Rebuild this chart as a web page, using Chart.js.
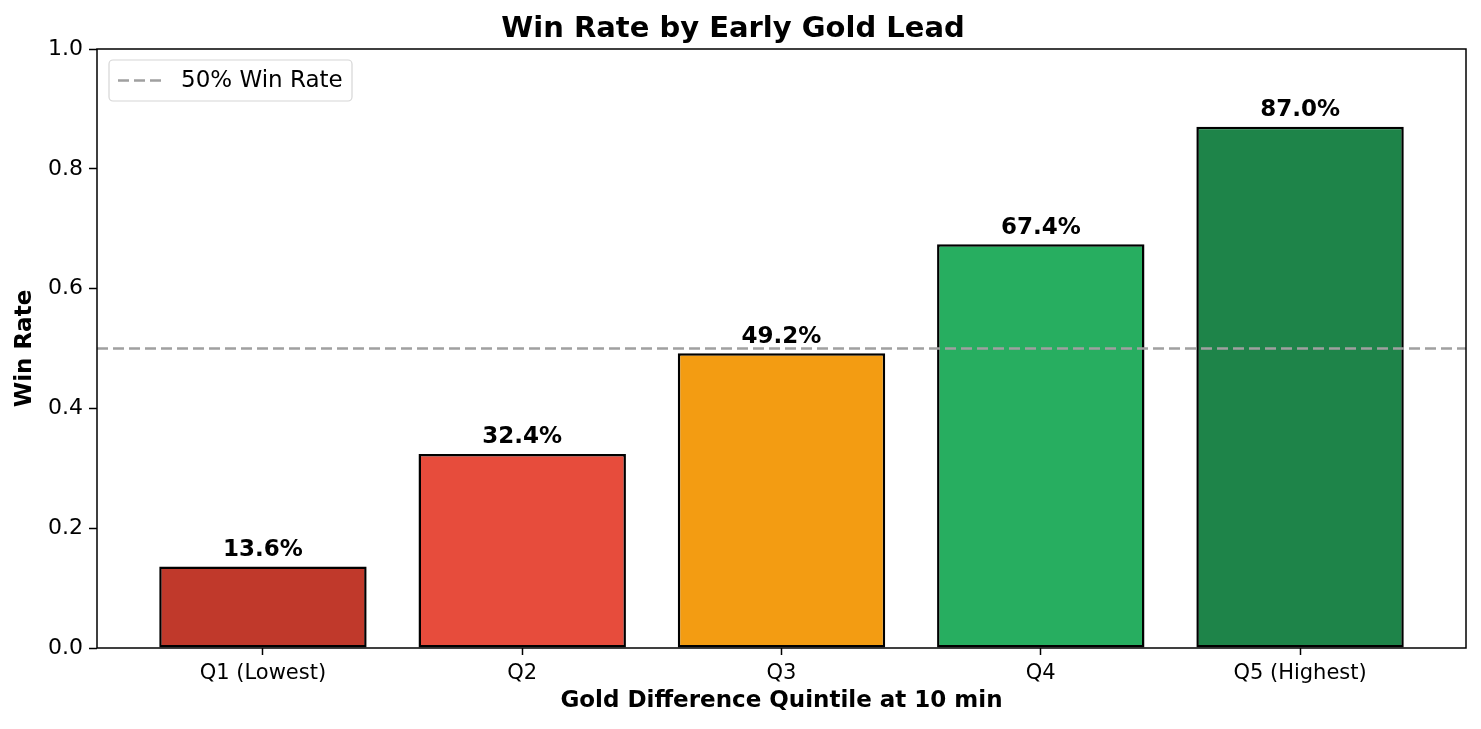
<!DOCTYPE html>
<html>
<head>
<meta charset="utf-8">
<script src="https://cdn.jsdelivr.net/npm/chart.js@4.4.1/dist/chart.umd.min.js"></script>
<style>
  html, body { margin: 0; padding: 0; background: #fff; }
  #wrap { width: 1481px; height: 729px; }
</style>
</head>
<body>
<div id="wrap"><canvas id="winChart" width="1481" height="729"></canvas></div>
<script>
const quintiles = ["Q1 (Lowest)", "Q2", "Q3", "Q4", "Q5 (Highest)"];
const winRates = [0.136, 0.324, 0.492, 0.674, 0.870];
const barColors = ["#c0392b", "#e74c3c", "#f39c12", "#27ae60", "#1e8449"];
const yTicks = [0, 0.2, 0.4, 0.6, 0.8, 1.0];
const refLabel = "50% Win Rate";
const refValue = 0.5;
const xMin = -0.64, xMax = 4.64;

const FONT = "'DejaVu Sans', sans-serif";

// bar value labels + legend + top/right spines
const extras = {
    id: "extras",
    afterDatasetsDraw(chart) {
        const c = chart.ctx;
        const {left, right, top, bottom} = chart.chartArea;
        const xs = chart.scales.x, ys = chart.scales.y;

        c.save();
        c.font = "bold 23px " + FONT;
        c.fillStyle = "#000";
        c.textAlign = "center";
        c.textBaseline = "bottom";
        winRates.forEach((v, i) => {
            c.fillText((v * 100).toFixed(1) + "%", xs.getPixelForValue(i), ys.getPixelForValue(v) - 5);
        });

        // frame
        c.strokeStyle = "#000";
        c.lineWidth = 1.5;
        c.strokeRect(left, top, right - left, bottom - top);

        // legend
        const lx = left + 12, ly = top + 11, lw = 243, lh = 41;
        c.beginPath();
        c.roundRect(lx, ly, lw, lh, 4);
        c.fillStyle = "rgba(255,255,255,0.8)";
        c.fill();
        c.strokeStyle = "#d6d6d6";
        c.lineWidth = 1.2;
        c.stroke();
        c.beginPath();
        c.setLineDash([11, 5]);
        c.strokeStyle = "#a0a0a0";
        c.lineWidth = 2.5;
        c.moveTo(lx + 9, ly + lh / 2);
        c.lineTo(lx + 55, ly + lh / 2);
        c.stroke();
        c.setLineDash([]);
        c.fillStyle = "#000";
        c.font = "23px " + FONT;
        c.textAlign = "left";
        c.textBaseline = "middle";
        c.fillText(refLabel, lx + 72, ly + lh / 2 + 1);
        c.restore();
    }
};

new Chart(document.getElementById("winChart"), {
    type: "bar",
    data: {
        datasets: [
            {
                type: "line",
                label: refLabel,
                data: [{x: xMin, y: refValue}, {x: xMax, y: refValue}],
                borderColor: "#a0a0a0",
                borderWidth: 2.5,
                borderDash: [11, 5],
                pointRadius: 0,
                order: 0
            },
            {
                label: "Win Rate",
                data: winRates.map((v, i) => ({x: i, y: v})),
                backgroundColor: barColors,
                borderColor: "#000",
                borderWidth: 2.5,
                borderSkipped: false,
                categoryPercentage: 0.8,
                barPercentage: 1.0,
                order: 1
            }
        ]
    },
    options: {
        responsive: false,
        animation: false,
        layout: { padding: { left: 0, right: 15, top: 0, bottom: 0 } },
        plugins: {
            legend: { display: false },
            tooltip: { enabled: false },
            title: {
                display: true,
                text: "Win Rate by Early Gold Lead",
                color: "#000",
                font: { family: FONT, size: 29, weight: "bold" },
                padding: { top: 12, bottom: 2.2 }
            }
        },
        scales: {
            x: {
                type: "linear",
                min: xMin,
                max: xMax,
                offset: false,
                afterFit: (s) => { s.height = 81; },
                afterBuildTicks: (s) => { s.ticks = quintiles.map((q, i) => ({value: i})); },
                grid: { display: true, offset: false, drawOnChartArea: false, tickLength: 7, tickColor: "#000", tickWidth: 1.5 },
                border: { display: false },
                ticks: {
                    color: "#000",
                    font: { family: FONT, size: 21 },
                    padding: 6,
                    maxRotation: 0,
                    callback: (v) => quintiles[v]
                },
                title: {
                    display: true,
                    text: "Gold Difference Quintile at 10 min",
                    color: "#000",
                    font: { family: FONT, size: 23, weight: "bold" },
                    padding: { top: 0, bottom: 14 }
                }
            },
            y: {
                min: 0,
                max: 1,
                afterFit: (s) => { s.width = 97; },
                afterBuildTicks: (s) => { s.ticks = yTicks.map(v => ({value: v})); },
                grid: { display: true, drawOnChartArea: false, tickLength: 8, tickColor: "#000", tickWidth: 1.5 },
                border: { display: false },
                ticks: {
                    color: "#000",
                    font: { family: FONT, size: 22 },
                    padding: 6,
                    callback: (v) => v.toFixed(1)
                },
                title: {
                    display: true,
                    text: "Win Rate",
                    color: "#000",
                    font: { family: FONT, size: 23, weight: "bold" },
                    padding: { top: 11, bottom: 0 }
                }
            }
        }
    },
    plugins: [extras]
});
</script>
</body>
</html>
